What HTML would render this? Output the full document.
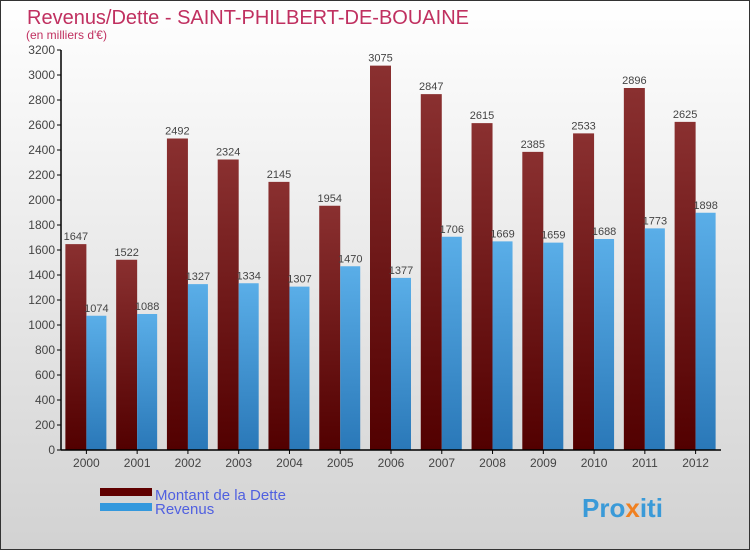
<!DOCTYPE html>
<html><head><meta charset="utf-8"><style>
body{margin:0}
#c{width:750px;height:550px;position:relative;font-family:"Liberation Sans",sans-serif;}
</style></head><body>
<div id="c">
<svg id="s" width="750" height="550" xmlns="http://www.w3.org/2000/svg">
<defs>
<linearGradient id="bg" x1="0" y1="0" x2="0" y2="1"><stop offset="0" stop-color="#ffffff"/><stop offset="1" stop-color="#d2d2d2"/></linearGradient>
<linearGradient id="gd" x1="0" y1="0" x2="0" y2="1"><stop offset="0" stop-color="#8a3030"/><stop offset="1" stop-color="#520000"/></linearGradient>
<linearGradient id="gr" x1="0" y1="0" x2="0" y2="1"><stop offset="0" stop-color="#5aaee8"/><stop offset="1" stop-color="#2a78b8"/></linearGradient>
</defs>
<rect x="0.5" y="0.5" width="749" height="549" fill="url(#bg)" stroke="#333"/>
<text x="27" y="24" font-size="20" fill="#c03060">Revenus/Dette - SAINT-PHILBERT-DE-BOUAINE</text>
<text x="26" y="39" font-size="12" fill="#c03060">(en milliers d'€)</text>
<g id="plot"></g>
<rect x="100" y="488" width="52" height="8" fill="#600000"/>
<text x="155" y="500" font-size="15" fill="#5060e0">Montant de la Dette</text>
<rect x="100" y="503" width="52" height="8" fill="#3398dd"/>
<text x="155" y="514" font-size="15" fill="#5060e0">Revenus</text>
<text x="582" y="517" font-size="26" font-weight="bold" fill="#3a9ad8">Pro<tspan fill="#f08020">x</tspan>iti</text>
</svg>
</div>
<script>
const years=["2000","2001","2002","2003","2004","2005","2006","2007","2008","2009","2010","2011","2012"];
const dette=[1647,1522,2492,2324,2145,1954,3075,2847,2615,2385,2533,2896,2625];
const revenus=[1074,1088,1327,1334,1307,1470,1377,1706,1669,1659,1688,1773,1898];
const yTicks=[0,200,400,600,800,1000,1200,1400,1600,1800,2000,2200,2400,2600,2800,3000,3200];
const NS="http://www.w3.org/2000/svg";
const X0=61,X1=721,Y0=450,Y1=50,YMAX=3200;
const g=document.getElementById('plot');
const y=v=>Y0-(v/YMAX)*(Y0-Y1);
const bw=(X1-X0)/years.length;
const cx=i=>X0+bw*(i+0.5);
function el(t,a){const e=document.createElementNS(NS,t);for(const k in a)e.setAttribute(k,a[k]);g.appendChild(e);return e;}
years.forEach((yr,i)=>{
  const c=cx(i);
  let r=el('rect',{x:c-21,y:y(dette[i]),width:21,height:Y0-y(dette[i]),fill:'url(#gd)'});
  
  
  r=el('rect',{x:c,y:y(revenus[i]),width:20,height:Y0-y(revenus[i]),fill:'url(#gr)'});
  
  
  let t=el('text',{x:c-10.5,y:y(dette[i])-4,'font-size':11,'text-anchor':'middle',fill:'#444'});
  t.textContent=dette[i];
  
  
  t=el('text',{x:c+10,y:y(revenus[i])-4,'font-size':11,'text-anchor':'middle',fill:'#444'});
  t.textContent=revenus[i];
  
  
  el('line',{x1:c,x2:c,y1:Y0,y2:Y0+4,stroke:'#000'});
  t=el('text',{x:c,y:Y0+17,'font-size':12,'text-anchor':'middle',fill:'#444'});
  t.textContent=yr;
  
  
});
yTicks.forEach(v=>{
  el('line',{x1:X0-4,x2:X0,y1:y(v),y2:y(v),stroke:'#000'});
  const t=el('text',{x:X0-6,y:y(v)+4,'font-size':12,'text-anchor':'end',fill:'#444'});
  t.textContent=v;
  
  
});
let a=el('line',{x1:X0,x2:X0,y1:Y1,y2:Y0,stroke:'#000','stroke-width':1.5});


a=el('line',{x1:X0,x2:X1,y1:Y0,y2:Y0,stroke:'#000','stroke-width':1.5});


</script>
</body></html>
